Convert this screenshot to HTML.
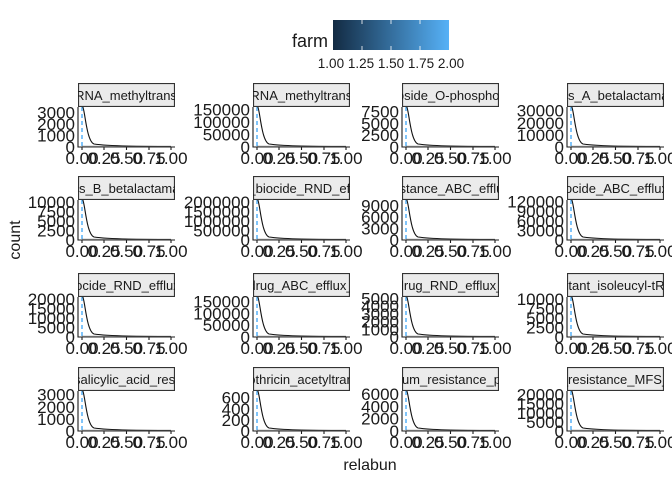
<!DOCTYPE html>
<html><head><meta charset="utf-8"><style>
body{margin:0;background:#fff;}
svg{font-family:"Liberation Sans",Arial,sans-serif;}
.yl{font-size:17px;text-anchor:end;fill:#1a1a1a}
.xl{font-size:17px;text-anchor:middle;fill:#1a1a1a}
.st{font-size:13px;text-anchor:middle;fill:#1a1a1a}
.sr{fill:#ebebeb;stroke:#333;stroke-width:1.2}
.ax{stroke:#1a1a1a;stroke-width:1.1;fill:none}
.cv{stroke:#111;stroke-width:1.1;fill:none}
.dl{stroke:#56B1F7;stroke-width:1.5;stroke-dasharray:4,3}
</style></head><body>
<svg width="672" height="480" viewBox="0 0 672 480" xmlns="http://www.w3.org/2000/svg">
<defs><linearGradient id="g" x1="0" x2="1"><stop offset="0" stop-color="#132B43"/><stop offset="1" stop-color="#56B1F7"/></linearGradient>
<symbol id="base" overflow="visible">
<path class="ax" d="M0,24V64H97M4,64v3M26,64v3M48.5,64v3M71,64v3M93,64v3"/>
<path class="dl" d="M4,24V64"/>
<path class="cv" d="M4,22C7,24 8,58 16,61C30,63 60,63.5 93,63.5"/>
<path d="M4,63.5H93" stroke="#555" stroke-width="1.5" opacity="0.6"/>
<text class="xl" x="4" y="81">0.00</text><text class="xl" x="26" y="81">0.25</text><text class="xl" x="48.5" y="81">0.50</text><text class="xl" x="71" y="81">0.75</text><text class="xl" x="93" y="81">1.00</text>
</symbol></defs>
<text x="292" y="47" font-size="18" fill="#1a1a1a">farm</text>
<rect x="333" y="20" width="116" height="30" fill="url(#g)"/>
<path d="M362,20v4M391,20v4M420,20v4M362,50v-4M391,50v-4M420,50v-4" stroke="#fff" stroke-width="0.8"/>
<text x="391" y="68" font-size="13.5" text-anchor="middle" fill="#1a1a1a">1.00 1.25 1.50 1.75 2.00</text>
<text transform="translate(20,240) rotate(-90)" font-size="16" text-anchor="middle" fill="#1a1a1a">count</text>
<text x="370" y="470" font-size="16" text-anchor="middle" fill="#1a1a1a">relabun</text>

<!-- Row 1 -->
<g transform="translate(78,83)"><use href="#base"/><svg width="97" height="24"><rect class="sr" x="0.5" y="0.5" width="96" height="23"/><text class="st" x="48" y="17">tRNA_methyltransf</text></svg>
<text class="yl" x="-3" y="70">0</text><text class="yl" x="-3" y="58.6">1000</text><text class="yl" x="-3" y="47.1">2000</text><text class="yl" x="-3" y="35.7">3000</text></g>
<g transform="translate(253,83)"><use href="#base"/><svg width="97" height="24"><rect class="sr" x="0.5" y="0.5" width="96" height="23"/><text class="st" x="48" y="17">rRNA_methyltransf</text></svg>
<text class="yl" x="-3" y="70">0</text><text class="yl" x="-3" y="57.5">50000</text><text class="yl" x="-3" y="45">100000</text><text class="yl" x="-3" y="32.5">150000</text></g>
<g transform="translate(402,83)"><use href="#base"/><svg width="97" height="24"><rect class="sr" x="0.5" y="0.5" width="96" height="23"/><text class="st" x="48" y="17">oside_O-phosphot</text></svg>
<text class="yl" x="-3" y="70">0</text><text class="yl" x="-3" y="58.2">2500</text><text class="yl" x="-3" y="46.5">5000</text><text class="yl" x="-3" y="34.7">7500</text></g>
<g transform="translate(567,83)"><use href="#base"/><svg width="97" height="24"><rect class="sr" x="0.5" y="0.5" width="96" height="23"/><text class="st" x="48" y="17">ss_A_betalactama</text></svg>
<text class="yl" x="-3" y="70">0</text><text class="yl" x="-3" y="57.9">10000</text><text class="yl" x="-3" y="45.8">20000</text><text class="yl" x="-3" y="33.6">30000</text></g>

<!-- Row 2 -->
<g transform="translate(78,176)"><use href="#base"/><svg width="97" height="24"><rect class="sr" x="0.5" y="0.5" width="96" height="23"/><text class="st" x="48" y="17">ss_B_betalactama</text></svg>
<text class="yl" x="-3" y="70">0</text><text class="yl" x="-3" y="60.5">2500</text><text class="yl" x="-3" y="51">5000</text><text class="yl" x="-3" y="41.4">7500</text><text class="yl" x="-3" y="31.9">10000</text></g>
<g transform="translate(253,176)"><use href="#base"/><svg width="97" height="24"><rect class="sr" x="0.5" y="0.5" width="96" height="23"/><text class="st" x="48" y="17">_biocide_RND_eff</text></svg>
<text class="yl" x="-3" y="70">0</text><text class="yl" x="-3" y="60.5">500000</text><text class="yl" x="-3" y="51">1000000</text><text class="yl" x="-3" y="41.4">1500000</text><text class="yl" x="-3" y="31.9">2000000</text></g>
<g transform="translate(402,176)"><use href="#base"/><svg width="97" height="24"><rect class="sr" x="0.5" y="0.5" width="96" height="23"/><text class="st" x="48" y="17">istance_ABC_efflu</text></svg>
<text class="yl" x="-3" y="70">0</text><text class="yl" x="-3" y="58.6">3000</text><text class="yl" x="-3" y="47.1">6000</text><text class="yl" x="-3" y="35.7">9000</text></g>
<g transform="translate(567,176)"><use href="#base"/><svg width="97" height="24"><rect class="sr" x="0.5" y="0.5" width="96" height="23"/><text class="st" x="48" y="17">iocide_ABC_efflux</text></svg>
<text class="yl" x="-3" y="70">0</text><text class="yl" x="-3" y="60.4">30000</text><text class="yl" x="-3" y="50.8">60000</text><text class="yl" x="-3" y="41.2">90000</text><text class="yl" x="-3" y="31.6">120000</text></g>

<!-- Row 3 -->
<g transform="translate(78,273)"><use href="#base"/><svg width="97" height="24"><rect class="sr" x="0.5" y="0.5" width="96" height="23"/><text class="st" x="48" y="17">iocide_RND_efflux</text></svg>
<text class="yl" x="-3" y="70">0</text><text class="yl" x="-3" y="60.5">5000</text><text class="yl" x="-3" y="51">10000</text><text class="yl" x="-3" y="41.4">15000</text><text class="yl" x="-3" y="31.9">20000</text></g>
<g transform="translate(253,273)"><use href="#base"/><svg width="97" height="24"><rect class="sr" x="0.5" y="0.5" width="96" height="23"/><text class="st" x="48" y="17">drug_ABC_efflux_</text></svg>
<text class="yl" x="-3" y="70">0</text><text class="yl" x="-3" y="58.2">50000</text><text class="yl" x="-3" y="46.5">100000</text><text class="yl" x="-3" y="34.7">150000</text></g>
<g transform="translate(402,273)"><use href="#base"/><svg width="97" height="24"><rect class="sr" x="0.5" y="0.5" width="96" height="23"/><text class="st" x="48" y="17">drug_RND_efflux_</text></svg>
<text class="yl" x="-3" y="70">0</text><text class="yl" x="-3" y="62.3">1000</text><text class="yl" x="-3" y="54.6">2000</text><text class="yl" x="-3" y="46.9">3000</text><text class="yl" x="-3" y="39.2">4000</text><text class="yl" x="-3" y="31.5">5000</text></g>
<g transform="translate(567,273)"><use href="#base"/><svg width="97" height="24"><rect class="sr" x="0.5" y="0.5" width="96" height="23"/><text class="st" x="48" y="17">itant_isoleucyl-tR</text></svg>
<text class="yl" x="-3" y="70">0</text><text class="yl" x="-3" y="60.5">2500</text><text class="yl" x="-3" y="51">5000</text><text class="yl" x="-3" y="41.4">7500</text><text class="yl" x="-3" y="31.9">10000</text></g>

<!-- Row 4 -->
<g transform="translate(78,367)"><use href="#base"/><svg width="97" height="24"><rect class="sr" x="0.5" y="0.5" width="96" height="23"/><text class="st" x="48" y="17">salicylic_acid_resi</text></svg>
<text class="yl" x="-3" y="70">0</text><text class="yl" x="-3" y="57.9">1000</text><text class="yl" x="-3" y="45.8">2000</text><text class="yl" x="-3" y="33.6">3000</text></g>
<g transform="translate(253,367)"><use href="#base"/><svg width="97" height="24"><rect class="sr" x="0.5" y="0.5" width="96" height="23"/><text class="st" x="48" y="17">othricin_acetyltran</text></svg>
<text class="yl" x="-3" y="70">0</text><text class="yl" x="-3" y="58.9">200</text><text class="yl" x="-3" y="47.8">400</text><text class="yl" x="-3" y="36.7">600</text></g>
<g transform="translate(402,367)"><use href="#base"/><svg width="97" height="24"><rect class="sr" x="0.5" y="0.5" width="96" height="23"/><text class="st" x="48" y="17">ium_resistance_p</text></svg>
<text class="yl" x="-3" y="70">0</text><text class="yl" x="-3" y="57.7">2000</text><text class="yl" x="-3" y="45.4">4000</text><text class="yl" x="-3" y="33.1">6000</text></g>
<g transform="translate(567,367)"><use href="#base"/><svg width="97" height="24"><rect class="sr" x="0.5" y="0.5" width="96" height="23"/><text class="st" x="48" y="17">_resistance_MFS_</text></svg>
<text class="yl" x="-3" y="70">0</text><text class="yl" x="-3" y="60.9">5000</text><text class="yl" x="-3" y="51.8">10000</text><text class="yl" x="-3" y="42.7">15000</text><text class="yl" x="-3" y="33.6">20000</text></g>
</svg>
</body></html>
